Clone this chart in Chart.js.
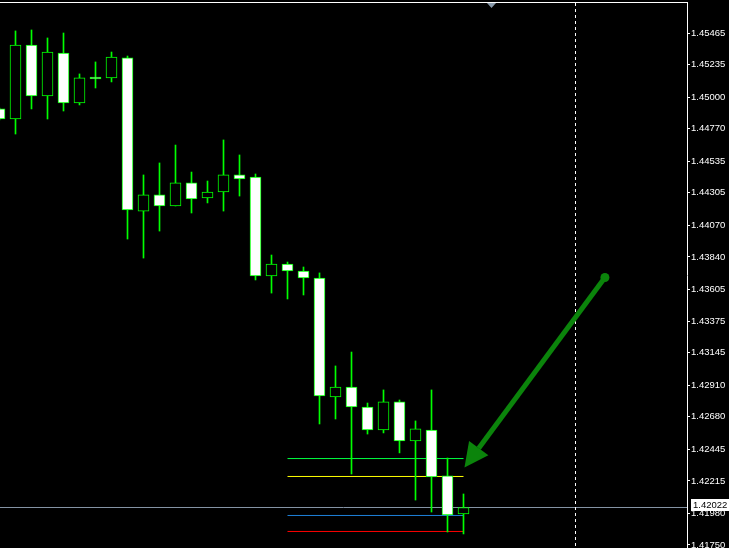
<!DOCTYPE html>
<html>
<head>
<meta charset="utf-8">
<script src="https://cdn.jsdelivr.net/npm/chart.js@4.4.1/dist/chart.umd.min.js"></script>
<style>
  html, body { margin: 0; padding: 0; background: #000; overflow: hidden; }
</style>
</head>
<body>
<canvas id="chart" width="729" height="548"></canvas>
<script>
// candle index (bar 0 is the first full candle on the left)
const bars   = [-1, 0, 1, 2, 3, 4, 5, 6, 7, 8, 9, 10, 11, 12, 13, 14, 15, 16, 17, 18, 19, 20, 21, 22, 23, 24, 25, 26, 27, 28];
const opens  = [1.44914, 1.44841, 1.45378, 1.45008, 1.45320, 1.44957, 1.45132, 1.45139, 1.45284, 1.44173,
                1.44290, 1.44210, 1.44377, 1.44268, 1.44311, 1.44435, 1.44420, 1.43702, 1.43789, 1.43738,
                1.43687, 1.42824, 1.42896, 1.42751, 1.42584, 1.42788, 1.42505, 1.42584, 1.42251, 1.41975];
const highs  = [1.44921, 1.45480, 1.45487, 1.45429, 1.45465, 1.45168, 1.45255, 1.45327, 1.45298, 1.44435,
                1.44522, 1.44652, 1.44456, 1.44391, 1.44689, 1.44580, 1.44442, 1.43854, 1.43803, 1.43767,
                1.43724, 1.43049, 1.43150, 1.42780, 1.42875, 1.42802, 1.42650, 1.42875, 1.42381, 1.42120];
const lows   = [1.44834, 1.44732, 1.44914, 1.44841, 1.44899, 1.44943, 1.45066, 1.45110, 1.43970, 1.43832,
                1.44028, 1.44210, 1.44159, 1.44232, 1.44173, 1.44282, 1.43673, 1.43578, 1.43535, 1.43564,
                1.42628, 1.42664, 1.42265, 1.42555, 1.42563, 1.42418, 1.42076, 1.41989, 1.41844, 1.41830];
const closes = [1.44841, 1.45378, 1.45008, 1.45327, 1.44957, 1.45139, 1.45131, 1.45291, 1.44181, 1.44290,
                1.44210, 1.44377, 1.44261, 1.44311, 1.44435, 1.44406, 1.43702, 1.43789, 1.43738, 1.43687,
                1.42831, 1.42896, 1.42751, 1.42584, 1.42788, 1.42505, 1.42592, 1.42243, 1.41968, 1.42022];

const priceTicks = [1.45465, 1.45235, 1.45000, 1.44770, 1.44535, 1.44305, 1.44070, 1.43840, 1.43605,
                    1.43375, 1.43145, 1.42910, 1.42680, 1.42445, 1.42215, 1.41980, 1.41750];
const currentPrice = 1.42022;

// previous bar high / open / close / low, drawn from bar 17 to bar 28
const levelValues = [1.42377, 1.42247, 1.41964, 1.41848];
const levelColors = ['#00ff40', '#ffff00', '#1e80d8', '#ff0000'];
const levelFrom = 17;
const levelTo = 28;

const arrowFrom = [36.84, 1.43691];
const arrowTo = [28.06, 1.42312];
const separatorBar = 35;
const shiftMarker = 29.75;

const xMin = -0.96875;
const xMax = xMin + 687 / 16;
const yMin = 1.41728;
const yMax = 1.45690;

const bodyData = bars.map((b, i) => ({ x: b, y: [opens[i], closes[i]] }));
const wickData = bars.map((b, i) => ({ x: b, y: [lows[i], highs[i]] }));
const bodyFill = bars.map((b, i) => closes[i] > opens[i] ? '#000000' : '#ffffff');

const levelSets = levelValues.map((v, i) => ({
  type: 'line',
  data: [{ x: levelFrom, y: v }, { x: levelTo, y: v }],
  borderColor: levelColors[i],
  borderWidth: 1,
  pointRadius: 0,
  order: 3
}));

const mtDecor = {
  id: 'mtDecor',
  beforeDatasetsDraw(chart) {
    const ctx = chart.ctx;
    const area = chart.chartArea;
    const xs = chart.scales.x, ys = chart.scales.y;
    ctx.save();
    // bid line
    const by = Math.round(ys.getPixelForValue(currentPrice)) + 0.5;
    ctx.strokeStyle = '#8493a4';
    ctx.lineWidth = 1;
    ctx.beginPath();
    ctx.moveTo(area.left, by);
    ctx.lineTo(area.right, by);
    ctx.stroke();
    // vertical dashed line
    const sx = Math.floor(xs.getPixelForValue(separatorBar)) + 0.5;
    ctx.strokeStyle = '#ffffff';
    ctx.setLineDash([3, 3]);
    ctx.beginPath();
    ctx.moveTo(sx, area.top + 1);
    ctx.lineTo(sx, area.bottom);
    ctx.stroke();
    ctx.restore();
  },
  afterDatasetsDraw(chart) {
    const ctx = chart.ctx;
    const xs = chart.scales.x, ys = chart.scales.y;
    const x1 = xs.getPixelForValue(arrowFrom[0]), y1 = ys.getPixelForValue(arrowFrom[1]);
    const x2 = xs.getPixelForValue(arrowTo[0]), y2 = ys.getPixelForValue(arrowTo[1]);
    const ang = Math.atan2(y2 - y1, x2 - x1);
    const headLen = 24, headHalf = 12;
    const bx = x2 - headLen * Math.cos(ang), by = y2 - headLen * Math.sin(ang);
    ctx.save();
    ctx.strokeStyle = '#0b840b';
    ctx.fillStyle = '#0b840b';
    ctx.lineWidth = 5;
    ctx.beginPath();
    ctx.moveTo(x1, y1);
    ctx.lineTo(bx, by);
    ctx.stroke();
    ctx.beginPath();
    ctx.moveTo(x2, y2);
    ctx.lineTo(bx + headHalf * Math.sin(ang), by - headHalf * Math.cos(ang));
    ctx.lineTo(bx - headHalf * Math.sin(ang), by + headHalf * Math.cos(ang));
    ctx.closePath();
    ctx.fill();
    ctx.beginPath();
    ctx.arc(x1, y1, 4.5, 0, Math.PI * 2);
    ctx.fill();
    ctx.restore();
  },
  afterDraw(chart) {
    const ctx = chart.ctx;
    const area = chart.chartArea;
    const xs = chart.scales.x, ys = chart.scales.y;
    ctx.save();
    // top frame line
    ctx.strokeStyle = '#ffffff';
    ctx.lineWidth = 1;
    ctx.beginPath();
    ctx.moveTo(0, area.top + 0.5);
    ctx.lineTo(area.right + 1, area.top + 0.5);
    ctx.stroke();
    // chart shift marker
    const mx = xs.getPixelForValue(shiftMarker);
    ctx.fillStyle = '#8899aa';
    ctx.beginPath();
    ctx.moveTo(mx - 4.5, area.top + 1);
    ctx.lineTo(mx + 4.5, area.top + 1);
    ctx.lineTo(mx, area.top + 6);
    ctx.closePath();
    ctx.fill();
    // current price label
    const py = ys.getPixelForValue(currentPrice);
    ctx.fillStyle = '#ffffff';
    ctx.fillRect(area.right + 4, Math.round(py) - 8, 42, 12);
    ctx.fillStyle = '#000000';
    ctx.font = '9.5px "Liberation Sans"';
    ctx.textBaseline = 'middle';
    ctx.fillText(currentPrice.toFixed(5), area.right + 6, Math.round(py) - 2);
    ctx.restore();
  }
};

const chart = new Chart(document.getElementById('chart').getContext('2d'), {
  type: 'bar',
  data: {
    datasets: [
      {
        data: bodyData,
        backgroundColor: bodyFill,
        borderColor: '#00ff00',
        borderWidth: 1,
        borderSkipped: false,
        barThickness: 11,
        maxBarThickness: 11,
        minBarLength: 2,
        grouped: false,
        order: 1
      },
      {
        data: wickData,
        backgroundColor: '#00ff00',
        borderWidth: 0,
        barThickness: 1,
        maxBarThickness: 1,
        grouped: false,
        order: 2
      },
      ...levelSets
    ]
  },
  options: {
    responsive: false,
    animation: false,
    events: [],
    layout: { padding: { top: 2, left: 0, right: 0, bottom: 0 } },
    plugins: {
      legend: { display: false },
      tooltip: { enabled: false }
    },
    scales: {
      x: {
        type: 'linear',
        display: false,
        min: xMin,
        max: xMax,
        offset: false
      },
      y: {
        type: 'linear',
        position: 'right',
        min: yMin,
        max: yMax,
        afterBuildTicks: function (scale) {
          scale.ticks = priceTicks.map(v => ({ value: v }));
        },
        afterFit: function (scale) {
          scale.width = 42;
          scale.paddingTop = 0;
          scale.paddingBottom = 0;
        },
        ticks: {
          color: '#ffffff',
          autoSkip: false,
          padding: 1,
          font: { family: 'Liberation Sans', size: 9.5 },
          callback: v => v.toFixed(5)
        },
        grid: {
          drawOnChartArea: false,
          drawTicks: true,
          tickLength: 3,
          color: '#ffffff'
        },
        border: { display: true, color: '#ffffff', width: 1 }
      }
    }
  },
  plugins: [mtDecor]
});
</script>
</body>
</html>
